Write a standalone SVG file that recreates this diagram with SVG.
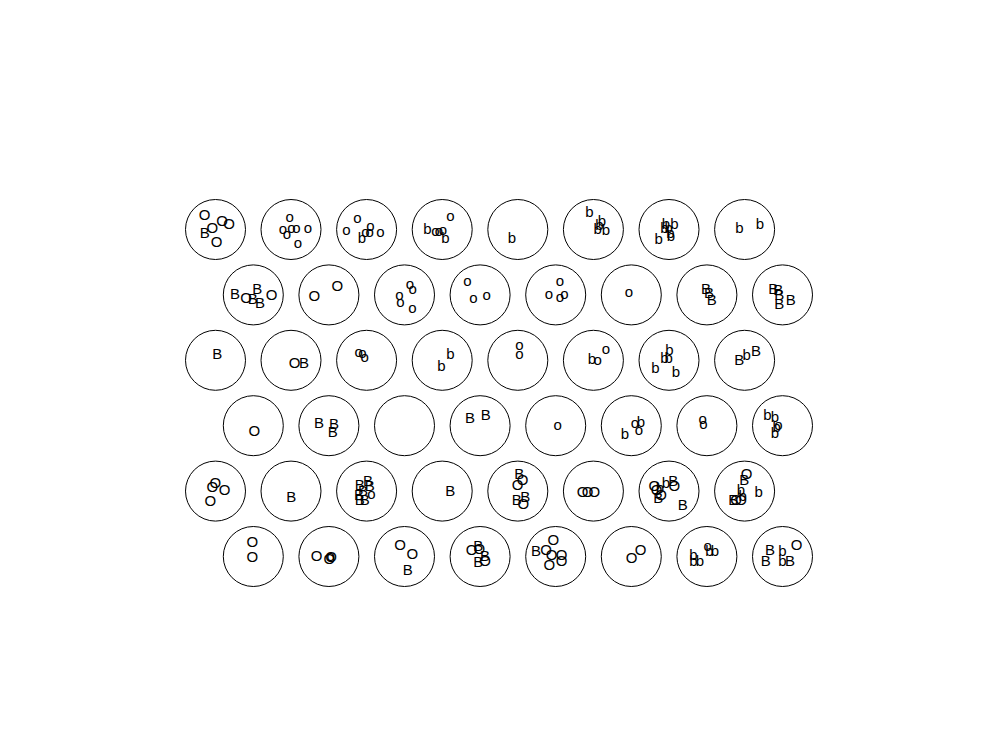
<svg xmlns="http://www.w3.org/2000/svg" width="996" height="735" viewBox="0 0 996 735">
<style>
.c{fill:none;stroke:#000;stroke-width:1}
text{font-family:"Liberation Sans",Arial,sans-serif;font-size:15px;fill:#000;text-anchor:middle}
</style>
<rect width="996" height="735" fill="#fff"/>
<g id="connectors"/>
<g id="n1"><circle class="c" cx="215.5" cy="229.5" r="30"/><text x="204.7" y="220">O</text><text x="222" y="226">O</text><text x="229" y="229.3">O</text><text x="204.7" y="237.7">B</text><text x="212.3" y="233.3">O</text><text x="216.7" y="246.7">O</text></g>
<g id="n2"><circle class="c" cx="291" cy="229.5" r="30"/><text x="289.7" y="221.7">o</text><text x="283" y="234.3">o</text><text x="287" y="238.7">o</text><text x="291.3" y="233.3">o</text><text x="296.3" y="233.3">o</text><text x="308" y="233.3">o</text><text x="298" y="248.3">o</text></g>
<g id="n3"><circle class="c" cx="366.6" cy="229.5" r="30"/><text x="357.3" y="222.7">o</text><text x="346.3" y="235.3">o</text><text x="362" y="242.7">b</text><text x="365.3" y="236.7">o</text><text x="370.3" y="231">o</text><text x="369.7" y="236.7">o</text><text x="380.3" y="236.7">o</text></g>
<g id="n4"><circle class="c" cx="442.2" cy="229.5" r="30"/><text x="450.3" y="221">o</text><text x="427.3" y="234.3">b</text><text x="435.3" y="236">o</text><text x="439" y="236">o</text><text x="443" y="235.3">o</text><text x="445.3" y="242.7">b</text></g>
<g id="n5"><circle class="c" cx="517.8" cy="229.5" r="30"/><text x="512" y="243.3">b</text></g>
<g id="n6"><circle class="c" cx="593.4" cy="229.5" r="30"/><text x="589.3" y="216.7">b</text><text x="602" y="226">b</text><text x="597.7" y="234.3">b</text><text x="606" y="235">b</text><text x="599.3" y="230.3">b</text></g>
<g id="n7"><circle class="c" cx="669" cy="229.5" r="30"/><text x="666" y="229.3">b</text><text x="674.3" y="229.3">b</text><text x="664.3" y="233.3">b</text><text x="671" y="241">b</text><text x="670.3" y="237.7">b</text><text x="658.7" y="244.3">b</text><text x="668.7" y="232.7">b</text></g>
<g id="n8"><circle class="c" cx="744.6" cy="229.5" r="30"/><text x="739.3" y="232.7">b</text><text x="760" y="229.3">b</text></g>
<g id="n9"><circle class="c" cx="253.3" cy="294.9" r="30"/><text x="235" y="299.3">B</text><text x="246" y="302.7">O</text><text x="257.3" y="293.7">B</text><text x="252.7" y="303.7">B</text><text x="260" y="307.7">B</text><text x="271.7" y="300.3">O</text></g>
<g id="n10"><circle class="c" cx="328.9" cy="294.9" r="30"/><text x="314.3" y="301">O</text><text x="337.3" y="291">O</text></g>
<g id="n11"><circle class="c" cx="404.5" cy="294.9" r="30"/><text x="410" y="288.7">o</text><text x="412.7" y="293.7">o</text><text x="399.3" y="299.7">o</text><text x="400.3" y="307">o</text><text x="412.3" y="312.7">o</text></g>
<g id="n12"><circle class="c" cx="480.1" cy="294.9" r="30"/><text x="467.3" y="286">o</text><text x="473.3" y="302.7">o</text><text x="486.7" y="299.7">o</text></g>
<g id="n13"><circle class="c" cx="555.7" cy="294.9" r="30"/><text x="560" y="286">o</text><text x="549" y="298.7">o</text><text x="560" y="302">o</text><text x="564.3" y="299.3">o</text></g>
<g id="n14"><circle class="c" cx="631.3" cy="294.9" r="30"/><text x="629" y="297">o</text></g>
<g id="n15"><circle class="c" cx="706.9" cy="294.9" r="30"/><text x="706" y="293.7">B</text><text x="709" y="297.7">B</text><text x="711.7" y="305.3">B</text></g>
<g id="n16"><circle class="c" cx="782.5" cy="294.9" r="30"/><text x="773.3" y="293.7">B</text><text x="778.3" y="295.3">B</text><text x="779.3" y="299.7">B</text><text x="779.3" y="308.7">B</text><text x="790.7" y="304.7">B</text></g>
<g id="n17"><circle class="c" cx="215.5" cy="360.3" r="30"/><text x="217.3" y="358.7">B</text></g>
<g id="n18"><circle class="c" cx="291" cy="360.3" r="30"/><text x="294.7" y="367.7">O</text><text x="304" y="367.7">B</text></g>
<g id="n19"><circle class="c" cx="366.6" cy="360.3" r="30"/><text x="358.7" y="357">o</text><text x="362.3" y="357.7">o</text><text x="364.7" y="362">o</text></g>
<g id="n20"><circle class="c" cx="442.2" cy="360.3" r="30"/><text x="441.3" y="371.3">b</text><text x="450.3" y="358.7">b</text></g>
<g id="n21"><circle class="c" cx="517.8" cy="360.3" r="30"/><text x="519.3" y="350.3">o</text><text x="519.3" y="358.7">o</text></g>
<g id="n22"><circle class="c" cx="593.4" cy="360.3" r="30"/><text x="592" y="363.7">b</text><text x="597.7" y="365.3">o</text><text x="606" y="354.3">o</text></g>
<g id="n23"><circle class="c" cx="669" cy="360.3" r="30"/><text x="655.3" y="372.7">b</text><text x="664.3" y="363">b</text><text x="669.3" y="355.3">b</text><text x="668.7" y="363">b</text><text x="676" y="377">b</text></g>
<g id="n24"><circle class="c" cx="744.6" cy="360.3" r="30"/><text x="739.3" y="365.3">B</text><text x="746.7" y="359.7">b</text><text x="756" y="356.3">B</text></g>
<g id="n25"><circle class="c" cx="253.3" cy="425.7" r="30"/><text x="254.3" y="436.3">O</text></g>
<g id="n26"><circle class="c" cx="328.9" cy="425.7" r="30"/><text x="319" y="427.7">B</text><text x="334" y="428.7">B</text><text x="332.7" y="437">B</text></g>
<g id="n27"><circle class="c" cx="404.5" cy="425.7" r="30"/></g>
<g id="n28"><circle class="c" cx="480.1" cy="425.7" r="30"/><text x="470" y="422.7">B</text><text x="485.7" y="420.3">B</text></g>
<g id="n29"><circle class="c" cx="555.7" cy="425.7" r="30"/><text x="557.7" y="430.3">o</text></g>
<g id="n30"><circle class="c" cx="631.3" cy="425.7" r="30"/><text x="625" y="438.7">b</text><text x="635" y="428">o</text><text x="641" y="427">b</text><text x="639" y="434.7">o</text></g>
<g id="n31"><circle class="c" cx="706.9" cy="425.7" r="30"/><text x="702.7" y="423.7">o</text><text x="703.3" y="429.3">o</text></g>
<g id="n32"><circle class="c" cx="782.5" cy="425.7" r="30"/><text x="767.3" y="420.3">b</text><text x="775" y="422">b</text><text x="776.7" y="432">b</text><text x="775" y="437.7">b</text><text x="778.3" y="430.3">o</text></g>
<g id="n33"><circle class="c" cx="215.5" cy="491.1" r="30"/><text x="215.3" y="488">O</text><text x="212.3" y="492.3">O</text><text x="224.7" y="495.3">O</text><text x="210.3" y="506.3">O</text></g>
<g id="n34"><circle class="c" cx="291" cy="491.1" r="30"/><text x="291.3" y="502">B</text></g>
<g id="n35"><circle class="c" cx="366.6" cy="491.1" r="30"/><text x="359.7" y="489.7">B</text><text x="368" y="486.3">B</text><text x="369.7" y="490.7">B</text><text x="363" y="496.3">B</text><text x="359" y="499.7">B</text><text x="359.7" y="504.7">B</text><text x="364.7" y="504.7">B</text><text x="371.3" y="498.7">o</text></g>
<g id="n36"><circle class="c" cx="442.2" cy="491.1" r="30"/><text x="450.3" y="496.3">B</text></g>
<g id="n37"><circle class="c" cx="517.8" cy="491.1" r="30"/><text x="519.3" y="478.7">B</text><text x="522.7" y="484.7">O</text><text x="517.7" y="489.7">O</text><text x="516.7" y="504.7">B</text><text x="525.3" y="502.3">B</text><text x="523.3" y="509">O</text></g>
<g id="n38"><circle class="c" cx="593.4" cy="491.1" r="30"/><text x="582.7" y="497">O</text><text x="587.7" y="497">O</text><text x="594.3" y="497">O</text></g>
<g id="n39"><circle class="c" cx="669" cy="491.1" r="30"/><text x="654.3" y="491.3">O</text><text x="660" y="493">b</text><text x="666" y="488">b</text><text x="673.3" y="486.3">B</text><text x="674.3" y="491.3">O</text><text x="658.3" y="503">B</text><text x="661" y="499.7">O</text><text x="656.7" y="494.7">O</text><text x="682.7" y="509.7">B</text></g>
<g id="n40"><circle class="c" cx="744.6" cy="491.1" r="30"/><text x="746.7" y="478.7">O</text><text x="744.3" y="485.3">B</text><text x="758.7" y="497.3">b</text><text x="733.3" y="504.7">B</text><text x="736" y="505.3">O</text><text x="742.7" y="501.3">b</text><text x="741" y="504.7">O</text><text x="741" y="494.7">b</text></g>
<g id="n41"><circle class="c" cx="253.3" cy="556.5" r="30"/><text x="252.3" y="547">O</text><text x="252.3" y="562.3">O</text></g>
<g id="n42"><circle class="c" cx="328.9" cy="556.5" r="30"/><text x="316.7" y="560.7">O</text><text x="329.3" y="563.7">O</text><text x="331" y="562.3">O</text><text x="330.7" y="561.3">o</text></g>
<g id="n43"><circle class="c" cx="404.5" cy="556.5" r="30"/><text x="400" y="549.7">O</text><text x="412.3" y="559">O</text><text x="407.7" y="574.7">B</text></g>
<g id="n44"><circle class="c" cx="480.1" cy="556.5" r="30"/><text x="478.3" y="551.3">B</text><text x="471.7" y="554.7">O</text><text x="479.3" y="553.7">O</text><text x="485" y="561.3">B</text><text x="478.3" y="567">B</text><text x="485" y="566.3">O</text></g>
<g id="n45"><circle class="c" cx="555.7" cy="556.5" r="30"/><text x="536" y="556.3">B</text><text x="546" y="554.7">O</text><text x="553.3" y="544.7">O</text><text x="551.7" y="559.7">O</text><text x="561.7" y="559.7">O</text><text x="561.7" y="566.3">O</text><text x="549.3" y="569.7">O</text></g>
<g id="n46"><circle class="c" cx="631.3" cy="556.5" r="30"/><text x="631.7" y="563">O</text><text x="640.7" y="555.3">O</text></g>
<g id="n47"><circle class="c" cx="706.9" cy="556.5" r="30"/><text x="693.3" y="560.3">b</text><text x="700" y="565.7">b</text><text x="693.3" y="565.7">b</text><text x="707.7" y="551.3">o</text><text x="709.3" y="556.3">b</text><text x="715" y="556.3">b</text></g>
<g id="n48"><circle class="c" cx="782.5" cy="556.5" r="30"/><text x="770" y="554.7">B</text><text x="782.3" y="555.7">b</text><text x="765.7" y="566.3">B</text><text x="782.3" y="566.3">b</text><text x="790" y="566.3">B</text><text x="796.7" y="550.3">O</text></g>
</svg>
